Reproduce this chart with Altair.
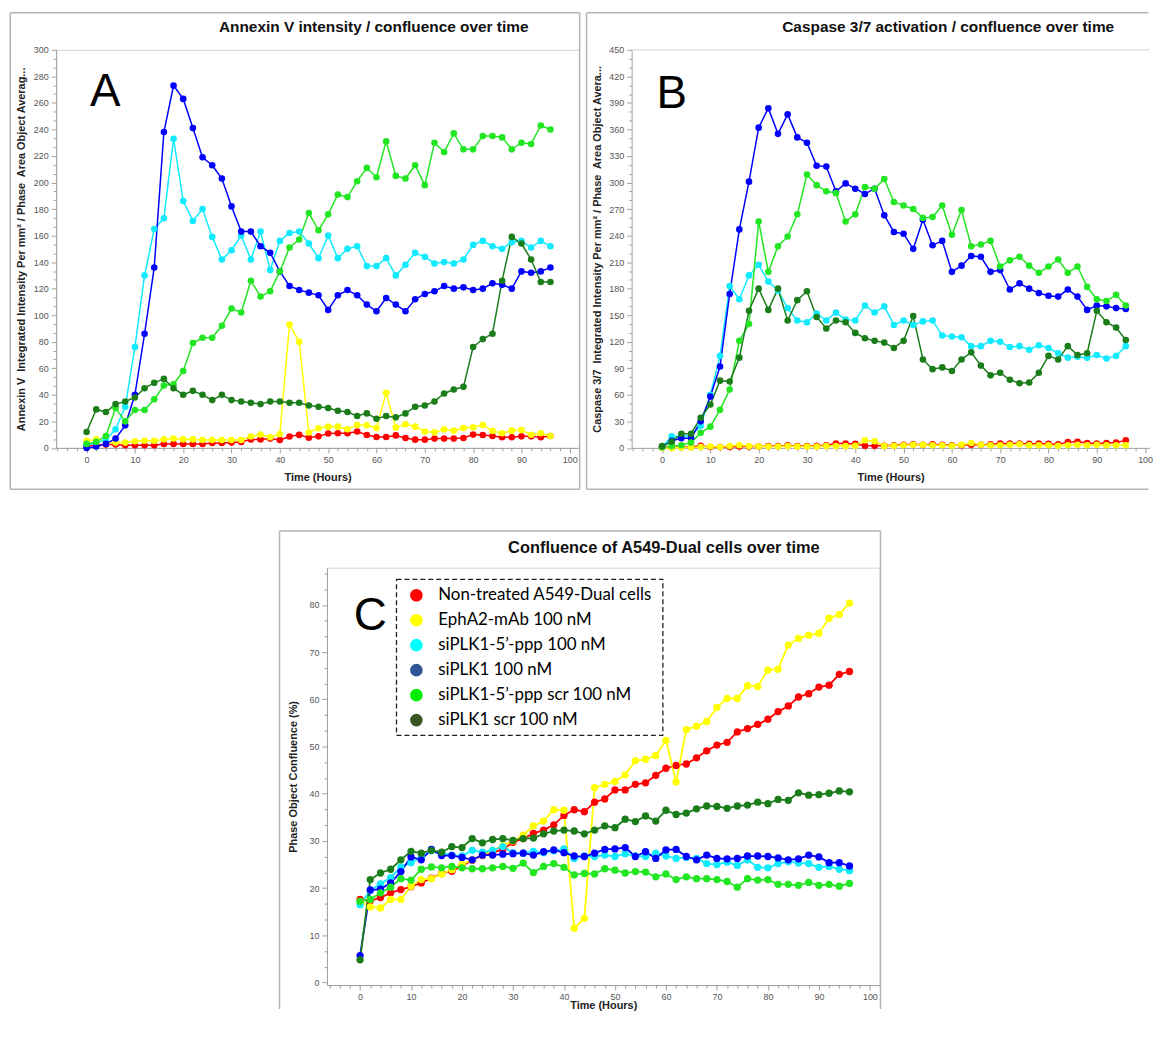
import altair as alt
import pandas as pd

# ---------------------------------------------------------------- data
HOURS = list(range(0, 97, 2))

SERIES = [
    "Non-treated A549-Dual cells",
    "EphA2-mAb 100 nM",
    "siPLK1-5\u2019-ppp 100 nM",
    "siPLK1 100 nM",
    "siPLK1-5\u2019-ppp scr 100 nM",
    "siPLK1 scr 100 nM",
]

# Panel A: Annexin V intensity / confluence
A_RED = [1.7, 2, 2.5, 2.5, 2, 2, 2, 2, 3, 3, 3, 3, 3, 3.7, 3.7, 4, 4.5, 6.4, 6.4, 7,
         6, 8.6, 9.8, 7.6, 8.7, 10.9, 11, 11, 12.4, 9.7, 8.2, 8.2, 9.4, 7.4, 6.2, 6.2, 7, 7, 7, 7.4,
         10, 9.7, 9, 8, 8, 8.7, 8.7, 8, 9]
A_YELLOW = [5.4, 6.4, 4, 4, 4, 5, 5.4, 5.4, 6.4, 7, 6.4, 6.4, 6, 6, 6, 6, 6, 8.6, 10, 8,
            10.4, 93, 80, 11.6, 14.8, 16, 16, 14, 17.3, 17, 15, 41.6, 15.3, 17.8, 16, 12.4, 11.7, 13.8, 13, 15,
            15.6, 17.3, 12.8, 11, 13, 13.4, 9.9, 11, 9]
A_CYAN = [2, 4, 6, 14, 31, 76, 130, 165, 173, 233, 186, 171, 180, 159, 142, 149, 160, 142, 163, 134,
          156, 162, 163, 154, 143, 160, 143, 150, 152, 137, 137, 143, 130, 138, 147, 144, 139, 140, 139, 142,
          153, 156, 152, 150, 155, 156, 151, 156, 152]
A_BLUE = [0, 1, 3, 7, 17, 40, 86, 136, 238, 273, 263, 241, 219, 213, 203, 182, 163, 163, 152, 147,
          133, 122, 119, 117, 115, 104, 115, 119, 115, 108, 103, 113, 108, 103, 112, 116, 118, 122, 120, 121,
          119, 120, 124, 123, 120, 133, 132, 133, 136]
A_LGREEN = [3, 4.5, 9, 30, 20, 28.5, 28.5, 36.6, 47, 48, 58, 79, 83, 83, 92, 105, 102, 126, 114, 118,
            133, 151, 157, 177, 164, 176, 191, 189, 201, 211, 204, 231, 205, 203, 213, 198, 230, 223, 237, 225,
            225, 235, 235, 234, 225, 230, 229, 243, 240]
A_DGREEN = [12, 29, 27, 33, 35, 38, 45, 49, 52, 45, 40, 43, 40, 36, 40, 36, 35, 34, 33, 35,
            35, 34, 34, 32, 31, 30, 28, 27, 24, 26, 22, 24, 23, 26, 31, 32, 35, 41, 44, 46,
            76, 82, 86, 126, 159, 154, 142, 125, 125]

# Panel B: Caspase 3/7 activation / confluence
B_RED = [0.5, 0.5, 1, 1, 2.5, 1, 1, 1, 1.5, 1.5, 1.5, 2, 2, 3, 2, 2, 2.5, 3, 5, 5,
         4.5, 2.5, 2.5, 2.5, 3, 3.5, 4, 3.5, 4, 3.5, 3, 3, 3.5, 3.5, 4, 5, 5, 5, 4.5, 5,
         4.5, 4, 6.5, 7, 5.5, 5, 5.5, 6, 8.5]
B_YELLOW = [0, 0, 0.5, 0.5, 1, 1.5, 1, 2, 3, 2, 1.5, 1.5, 1.5, 2, 1.5, 1.5, 1.5, 2, 2, 2,
            2.5, 8.5, 7.5, 2, 2.5, 3, 3.5, 3.5, 3, 3, 2.5, 3.5, 5.5, 3.5, 3, 3, 3.5, 4, 3, 3,
            3, 2.5, 3, 3.5, 3, 3.5, 3, 3, 3]
B_CYAN = [1, 13, 13, 14, 25, 60, 104, 183, 168, 195, 207, 188, 178, 158, 144, 142, 152, 144, 153, 145,
          144, 161, 153, 160, 139, 144, 139, 143, 144, 127, 126, 125, 115, 115, 121, 120, 114, 115, 111, 116,
          113, 107, 102, 103, 102, 105, 101, 104, 115]
B_BLUE = [1, 8, 11, 11, 30, 58, 92, 174, 247, 301, 362, 384, 355, 377, 351, 345, 319, 318, 290, 299,
          293, 287, 293, 263, 244, 242, 225, 258, 229, 234, 199, 206, 217, 216, 199, 201, 179, 186, 180, 175,
          172, 171, 179, 171, 156, 161, 160, 158, 157]
B_LGREEN = [1, 2, 3, 6, 17, 24, 43, 66, 121, 140, 256, 199, 228, 239, 264, 309, 297, 290, 288, 256,
            264, 295, 293, 304, 278, 274, 270, 260, 261, 274, 241, 269, 228, 230, 234, 205, 212, 216, 206, 198,
            205, 213, 198, 205, 182, 168, 166, 173, 161]
B_DGREEN = [2, 7, 16, 16, 34, 49, 76, 75, 102, 155, 180, 156, 180, 144, 167, 177, 148, 135, 144, 142,
            130, 124, 121, 119, 113, 121, 149, 100, 89, 91, 87, 100, 108, 93, 82, 85, 77, 73, 74, 85,
            104, 100, 115, 105, 107, 155, 142, 136, 122]

# Panel C: Confluence (%)
C_RED = [17.6, 17.3, 18.0, 19.0, 19.7, 20.3, 21.1, 22.1, 23.1, 23.6, 24.7, 25.9, 26.9, 27.5, 28.2,
         29.7, 30.5, 31.6, 32.3, 33.4, 35.4, 36.6, 36.2, 38.2, 38.9, 40.8, 40.8, 42.0, 42.3, 43.9,
         45.4, 46.0, 46.3, 47.6, 49.1, 50.3, 50.9, 53.1, 53.8, 54.7, 55.8, 57.4, 58.6, 60.5, 61.2,
         62.6, 63.0, 65.3, 65.9]
C_YELLOW = [17.2, 16.0, 15.8, 17.6, 17.6, 20.4, 21.8, 22.0, 23.0, 23.9, 25.0, 26.0, 27.0, 28.0, 29.0,
            30.0, 31.2, 33.2, 34.2, 36.6, 36.5, 11.5, 13.6, 41.3, 42.0, 42.6, 44.0, 47.0, 47.3, 48.1,
            51.3, 42.5, 53.6, 54.3, 55.3, 58.3, 60.2, 60.2, 62.9, 62.7, 66.2, 66.4, 71.5, 72.9, 73.6,
            74.0, 77.2, 78.0, 80.4]
C_CYAN = [16.5, 19.5, 20.9, 22.2, 24.5, 25.4, 26.5, 27.9, 27.4, 27.0, 26.8, 28.0, 27.6, 28.0, 28.8,
          27.5, 27.4, 27.8, 27.5, 27.9, 28.3, 26.3, 26.8, 26.7, 27.0, 26.7, 27.3, 26.8, 26.7, 27.4,
          26.8, 26.3, 26.5, 26.3, 25.2, 25.0, 25.5, 24.8, 26.0, 24.4, 24.3, 25.2, 25.6, 25.3, 25.2,
          24.4, 24.6, 24.0, 23.7]
C_BLUE = [5.7, 19.6, 19.8, 21.1, 23.5, 26.6, 26.0, 28.2, 26.9, 26.9, 26.5, 26.0, 27.0, 27.0, 27.2,
          27.3, 27.4, 27.0, 27.7, 28.1, 27.5, 26.8, 26.7, 27.4, 28.2, 28.3, 28.6, 26.7, 27.7, 26.3,
          28.1, 28.2, 26.7, 26.0, 27.0, 26.3, 26.2, 26.3, 26.8, 26.8, 26.7, 26.4, 26.0, 26.2, 27.0,
          26.6, 25.4, 25.4, 24.7]
C_LGREEN = [17.2, 17.6, 19.0, 20.2, 22.0, 21.7, 24.0, 24.5, 24.3, 24.6, 24.3, 24.1, 24.1, 24.3, 24.6,
            24.2, 25.3, 23.3, 24.6, 25.2, 24.4, 22.8, 23.1, 23.0, 24.1, 23.8, 23.2, 23.5, 23.4, 22.4,
            23.0, 21.8, 22.4, 22.0, 22.0, 21.8, 21.4, 20.2, 22.0, 21.7, 21.8, 20.8, 20.8, 20.6, 21.2,
            20.6, 20.8, 20.4, 21.0]
C_DGREEN = [4.8, 21.8, 23.2, 24.0, 26.0, 27.8, 27.4, 28.0, 27.6, 28.8, 28.6, 30.5, 29.6, 30.3, 30.5,
            30.1, 30.5, 30.6, 31.5, 32.1, 32.3, 32.1, 31.5, 32.3, 33.2, 32.8, 34.6, 34.1, 35.3, 34.2,
            36.5, 35.6, 35.9, 36.8, 37.4, 37.3, 36.9, 37.4, 37.6, 38.2, 37.9, 38.8, 38.6, 40.2, 39.7,
            39.8, 40.1, 40.6, 40.4]

X_TICKS = list(range(-6, 101, 2))
Y_TICKS_A = [round(i * 20 / 3, 4) for i in range(46)]
Y_TICKS_B = [round(i * 10.0, 4) for i in range(46)]
Y_TICKS_C = [round(i * 10 / 3, 4) for i in range(27)]

# ---------------------------------------------------------------- style
LINE_COLORS = ["#ff0000", "#ffff00", "#11eaff", "#0000ff", "#22e622", "#1a7d1a"]
LEGEND_COLORS = ["#ff0000", "#ffff00", "#00ffff", "#2f5597", "#00ee00", "#375623"]
FONT = "Liberation Sans, Arial, sans-serif"
LEG_FONT = "Lato, Open Sans, sans-serif"
FRAME = "#b4b4b4"
AXIS_GRAY = "#a0a0a0"


def to_long(arrays):
    rows = []
    for name, vals in zip(SERIES, arrays):
        assert len(vals) == len(HOURS), (name, len(vals))
        for h, v in zip(HOURS, vals):
            rows.append({"hour": h, "value": v, "series": name})
    return pd.DataFrame(rows)


ONE = pd.DataFrame({"k": [0]})


def frame_rule(x, y, x2=None, y2=None, color=FRAME, width=1.5):
    enc = dict(x=alt.value(x), y=alt.value(y))
    if x2 is not None:
        enc["x2"] = alt.value(x2)
    if y2 is not None:
        enc["y2"] = alt.value(y2)
    return alt.Chart(ONE).mark_rule(color=color, strokeWidth=width).encode(**enc)


def x_axis(title_y, pad):
    return alt.Axis(
        values=X_TICKS,
        labelExpr="(datum.value % 10 === 0 && datum.value >= 0) ? format(datum.value, 'd') : ''",
        tickSize={"condition": {"test": "datum.value % 10 === 0", "value": 5}, "value": 3},
        labelOverlap=False, labelFlush=False, labelPadding=pad, grid=False,
        title="Time (Hours)", titleY=title_y, titleBaseline="alphabetic",
    )


def y_axis(values, step, title, title_x, h):
    test = f"abs(datum.value % {step}) < 0.01"
    return alt.Axis(
        values=values,
        labelExpr=f"({test}) ? format(datum.value, 'd') : ''",
        tickSize={"condition": {"test": test, "value": 5}, "value": 3},
        labelOverlap=False, labelFlush=False, labelPadding=3, grid=False,
        title=title, titleX=title_x, titleY=h / 2, titleAngle=-90,
        titleAlign="center", titleBaseline="middle",
    )


def panel(df, w, h, xdom, ydom, yticks, ystep, ytitle, ytitle_x, xtitle_y,
          title_text, title_x, title_y, title_size, letter, letter_x, letter_y, pt_size, lw, decor,
          extra=(), y_indep=False, xpad=3):
    xs = alt.Scale(domain=xdom, nice=False, zero=False)
    ys = alt.Scale(domain=ydom, nice=False, zero=False)
    xa = x_axis(xtitle_y, xpad)
    ya = y_axis(yticks, ystep, ytitle, ytitle_x, h)
    color = alt.Color("series:N", scale=alt.Scale(domain=SERIES, range=LINE_COLORS), legend=None)
    lines = alt.Chart(df).mark_line(strokeWidth=lw).encode(
        x=alt.X("hour:Q", scale=xs, axis=xa),
        y=alt.Y("value:Q", scale=ys, axis=ya),
        color=color,
    )
    pts = alt.Chart(df).mark_circle(size=pt_size, opacity=1).encode(
        x=alt.X("hour:Q", scale=xs, axis=xa),
        y=alt.Y("value:Q", scale=ys, axis=None if y_indep else ya),
        color=color,
    )
    ttl = alt.Chart(ONE).mark_text(
        text=title_text, font=FONT, fontSize=title_size, fontWeight="bold",
        align="center", baseline="alphabetic", color="#111111",
    ).encode(x=alt.value(title_x), y=alt.value(title_y))
    let = alt.Chart(ONE).mark_text(
        text=letter, font=FONT, fontSize=46, align="left", baseline="alphabetic", color="black",
    ).encode(x=alt.value(letter_x), y=alt.value(letter_y))
    layers = list(decor) + [lines, pts, ttl, let] + list(extra)
    return alt.layer(*layers).properties(width=w, height=h)


# ---------------------------------------------------------------- panel A
WA, HA = 526, 400.5
FB = HA + 41.7  # frame bottom below the plot
frame_a = [
    frame_rule(-46.2, -37.2, y2=FB),
    frame_rule(526.7, -37.2, y2=FB),
    frame_rule(-46.2, -37.2, x2=526.7),
    frame_rule(-46.2, FB, x2=526.7),
]
chart_a = panel(
    to_long([A_RED, A_YELLOW, A_CYAN, A_BLUE, A_LGREEN, A_DGREEN]),
    WA, HA, [-6.3, 101.9], [0, 300], Y_TICKS_A, 20,
    "Annexin V\u00a0 Integrated Intensity Per mm\u00b2 / Phase\u00a0 Area Object Averag...",
    -35, 33,
    "Annexin V intensity / confluence over time", 319.5, -17.5, 15.5,
    "A", 34, 57, 44, 1.5, frame_a,
).properties(view=alt.ViewBackground(stroke="#d2d2d2", strokeWidth=1))

# ---------------------------------------------------------------- panel B
WB, HB = 521, 400.5
frame_b = [
    frame_rule(-45.3, -37.2, y2=FB),
    frame_rule(-45.3, -37.2, x2=520),
    frame_rule(-45.3, FB, x2=520),
    frame_rule(0, 0, x2=WB, color="#d2d2d2", width=1),
]
chart_b = panel(
    to_long([B_RED, B_YELLOW, B_CYAN, B_BLUE, B_LGREEN, B_DGREEN]),
    WB, HB, [-6.3, 100.9], [0, 450], Y_TICKS_B, 30,
    "Caspase 3/7\u00a0 Integrated Intensity Per mm\u00b2 / Phase\u00a0 Area Object Avera...",
    -34.3, 33,
    "Caspase 3/7 activation / confluence over time", 318.5, -17.5, 15.5,
    "B", 25, 58.5, 44, 1.5, frame_b,
).properties(view=alt.ViewBackground(stroke=None))

# ---------------------------------------------------------------- panel C
WC, HC = 556, 420
frame_c = [
    frame_rule(-47.7, -37, y2=444),
    frame_rule(-47.7, -37, x2=557),
    frame_rule(557, -37, y2=444),
]
leg_df = pd.DataFrame({"label": SERIES, "row": list(range(len(SERIES))), "lcolor": LEGEND_COLORS})
leg_y = alt.Y("row:Q", scale=alt.Scale(domain=[0, 5], range=[27.7, 153.4]), axis=None)
leg_box = alt.Chart(ONE).mark_rect(
    fillOpacity=0, stroke="#222222", strokeWidth=1.3, strokeDash=[5, 3], strokeJoin="round"
).encode(x=alt.value(70), x2=alt.value(338), y=alt.value(11.7), y2=alt.value(168.7))
leg_dots = alt.Chart(leg_df).mark_circle(size=160, opacity=1).encode(
    x=alt.value(90), y=leg_y, fill=alt.Fill("lcolor:N", scale=None))
leg_text = alt.Chart(leg_df).mark_text(
    align="left", baseline="middle", font=LEG_FONT, fontSize=17, color="black"
).encode(x=alt.value(112), y=leg_y, text="label:N")

chart_c = panel(
    to_long([C_RED, C_YELLOW, C_CYAN, C_BLUE, C_LGREEN, C_DGREEN]),
    WC, HC, [-6.5, 101.9], [-0.55, 87.9], Y_TICKS_C, 10,
    "Phase Object Confluence (%)",
    -33.4, 24,
    "Confluence of A549-Dual cells over time", 339, -15, 16.5,
    "C", 27, 62.7, 54, 1.8, frame_c, extra=[leg_box, leg_dots, leg_text], y_indep=True, xpad=2,
).resolve_scale(y="independent").properties(view=alt.ViewBackground(stroke="#d2d2d2", strokeWidth=1))

top = alt.hconcat(chart_a, chart_b, spacing=53, bounds="flush")
chart = alt.vconcat(top, chart_c, spacing=38, bounds="full", center=True).properties(
    padding={"left": 0, "top": 0, "right": 0, "bottom": 0}, background="white"
).configure_view(stroke=None).configure_axis(
    domainColor=AXIS_GRAY, domainWidth=1, tickColor=AXIS_GRAY, tickWidth=1,
    labelColor="#555555", labelFont=FONT, labelFontSize=9,
    titleFont=FONT, titleFontSize=11, titleFontWeight="bold", titleColor="#222222",
)

chart.save("out.html", embed_options={"renderer": "svg", "actions": False})
